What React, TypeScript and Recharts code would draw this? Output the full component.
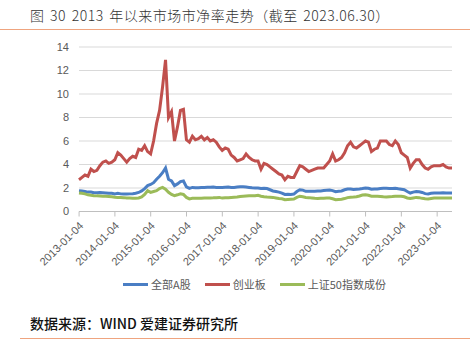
import React from 'react';
import { LineChart, Line, XAxis, YAxis, CartesianGrid } from 'recharts';

// monthly points, 2013-01 .. 2023-06
const months: string[] = [];
for (let y = 2013; y <= 2023; y++) {
  for (let m = 1; m <= 12; m++) {
    if (y === 2023 && m > 6) break;
    months.push(`${y}-${String(m).padStart(2, '0')}`);
  }
}

const allA = [
  1.77, 1.75, 1.7, 1.65, 1.65, 1.6, 1.6, 1.62, 1.6, 1.58, 1.55, 1.55,
  1.5, 1.55, 1.5, 1.48, 1.48, 1.5, 1.52, 1.55, 1.62, 1.75, 1.95, 2.2,
  2.3, 2.45, 2.75, 3.0, 3.3, 3.7, 2.75, 2.6, 2.2, 2.35, 2.55, 2.6,
  2.1, 1.97, 2.05, 2.02, 2.03, 2.05, 2.05, 2.07, 2.06, 2.08, 2.05, 2.05,
  2.05, 2.07, 2.08, 2.05, 2.05, 2.08, 2.1, 2.1, 2.08, 2.05, 2.02, 2.0,
  2.0, 1.95, 1.97, 1.95, 1.85, 1.75, 1.7, 1.65, 1.57, 1.45, 1.47, 1.45,
  1.48, 1.7, 1.85, 1.82, 1.72, 1.72, 1.73, 1.72, 1.75, 1.75, 1.78, 1.8,
  1.82, 1.78, 1.68, 1.72, 1.75, 1.85, 1.92, 1.92, 1.88, 1.9, 1.92, 1.95,
  2.0, 1.98, 1.9, 1.92, 1.92, 1.95, 1.97, 1.97, 1.95, 1.95, 1.97, 1.93,
  1.9, 1.85, 1.7, 1.57, 1.65, 1.7, 1.68, 1.62, 1.52, 1.5, 1.55, 1.57,
  1.58, 1.58, 1.6, 1.58, 1.57, 1.57,
];

const chinext = [
  2.7, 2.9, 3.1, 3.0, 3.6, 3.4, 3.5, 3.9, 4.2, 4.3, 4.1, 4.2,
  4.4, 5.0, 4.8, 4.5, 4.2, 4.5, 4.7, 4.6, 5.3, 5.2, 5.6, 5.1,
  4.9, 6.0, 7.5, 8.6, 10.6, 12.9, 8.0, 8.5, 6.0, 7.2, 8.6, 8.7,
  6.1, 5.9, 6.4, 6.1, 6.2, 6.4, 6.1, 6.3, 6.0, 6.1, 5.9, 5.5,
  5.2, 5.4, 5.3, 4.8, 4.6, 4.3, 4.4, 4.5, 4.9, 4.6, 4.4, 4.3,
  4.3, 3.6, 4.1, 4.0, 3.8, 3.6, 3.4, 3.2, 3.1, 2.7, 3.0, 2.9,
  2.9, 3.4, 3.9, 3.8, 3.6, 3.4, 3.5, 3.6, 3.7, 3.7, 3.7, 4.0,
  4.3, 4.9, 4.3, 4.4, 4.6, 5.0, 5.6, 5.9, 5.5, 5.4, 5.6, 5.8,
  6.0, 5.9, 5.1, 5.3, 5.4, 6.0, 6.0, 6.0, 5.7, 5.6, 6.0, 5.7,
  5.0, 4.8, 4.6, 3.7, 4.1, 4.4, 4.4, 4.0, 3.7, 3.6, 3.8, 3.9,
  3.9, 3.9, 4.0, 3.8, 3.7, 3.7,
];

const sz50 = [
  1.58, 1.55, 1.5, 1.42, 1.38, 1.35, 1.33, 1.32, 1.3, 1.3, 1.28, 1.25,
  1.22, 1.2, 1.2, 1.18, 1.15, 1.14, 1.13, 1.13, 1.15, 1.25, 1.45, 1.77,
  1.63, 1.7, 1.77, 1.95, 2.05, 1.9, 1.63, 1.45, 1.35, 1.42, 1.5, 1.45,
  1.2, 1.07, 1.12, 1.12, 1.12, 1.13, 1.14, 1.15, 1.15, 1.16, 1.18, 1.2,
  1.14, 1.16, 1.18, 1.2, 1.22, 1.23, 1.28, 1.3, 1.32, 1.34, 1.35, 1.34,
  1.38, 1.3, 1.25, 1.23, 1.22, 1.2, 1.15, 1.1, 1.08, 1.0, 1.02, 1.04,
  1.06, 1.2, 1.3, 1.25, 1.2, 1.18, 1.15, 1.12, 1.1, 1.12, 1.13, 1.14,
  1.14, 1.08, 1.0, 1.03, 1.05, 1.1, 1.18, 1.22, 1.23, 1.25, 1.32, 1.4,
  1.43, 1.38, 1.3, 1.3, 1.3, 1.28, 1.25, 1.23, 1.25, 1.27, 1.3, 1.3,
  1.3, 1.25, 1.15, 1.1, 1.15, 1.2, 1.18, 1.12, 1.08, 1.06, 1.1, 1.14,
  1.14, 1.15, 1.15, 1.14, 1.14, 1.14,
];

const yearTicks = [
  '2013-01-04', '2014-01-04', '2015-01-04', '2016-01-04', '2017-01-04', '2018-01-04',
  '2019-01-04', '2020-01-04', '2021-01-04', '2022-01-04', '2023-01-04',
];
const yTicks = [0, 2, 4, 6, 8, 10, 12, 14];

const series = [
  { key: 'allA', name: '全部A股', color: '#4A7EC4' },
  { key: 'chinext', name: '创业板', color: '#C0504D' },
  { key: 'sz50', name: '上证50指数成份', color: '#9BBB59' },
];

// date string -> fractional year
const toT = (s: string) => {
  const [y, m, d] = s.split('-').map(Number);
  return y + (m - 1 + (d ? d / 31 : 0.1)) / 12;
};

const data = months.map((m, i) => ({
  t: toT(m),
  allA: allA[i],
  chinext: chinext[i],
  sz50: sz50[i],
}));

const tickPos = yearTicks.map(toT);
const labelFor = (v: number) => yearTicks[tickPos.findIndex(p => Math.abs(p - v) < 1e-6)] ?? '';

const XTick = ({ x, y, payload }: any) => {
  const ax = x + 5;
  const ay = y + 8;
  return (
    <text
      x={ax}
      y={ay}
      transform={`rotate(-45 ${ax} ${ay})`}
      textAnchor="end"
      fontSize={11}
      fontFamily="Liberation Sans, Arial, sans-serif"
      fill="#595959"
    >
      {labelFor(payload.value)}
    </text>
  );
};

const cjk = '"Noto Sans CJK SC", sans-serif';

export default function App() {
  return (
    <div style={{ position: 'absolute', left: 0, top: 0, width: 470, height: 356, background: '#fff' }}>
      <div
        style={{
          position: 'absolute',
          left: 30,
          top: 5,
          fontFamily: cjk,
          fontSize: 14,
          fontWeight: 300,
          letterSpacing: 0.5,
          wordSpacing: 2,
          color: '#333',
          whiteSpace: 'nowrap',
        }}
      >
        图 30 2013 年以来市场市净率走势（截至 2023.06.30）
      </div>
      <div style={{ position: 'absolute', left: 0, top: 29, width: 470, height: 1, background: '#EFA47F' }} />

      <div style={{ position: 'absolute', left: 0, top: 0 }}>
        <LineChart width={470} height={300} data={data} margin={{ top: 47, right: 18, bottom: 28.5, left: 49 }}>
          <CartesianGrid vertical={false} stroke="#D9D9D9" />
          <XAxis
            dataKey="t"
            type="number"
            domain={[data[0].t, data[data.length - 1].t]}
            ticks={tickPos}
            interval={0}
            height={60}
            tickSize={5}
            tickLine={{ stroke: '#BFBFBF' }}
            axisLine={{ stroke: '#BFBFBF' }}
            tick={<XTick />}
          />
          <YAxis
            domain={[0, 14]}
            ticks={yTicks}
            width={30}
            axisLine={false}
            tickLine={false}
            tickMargin={4}
            tick={{ fontSize: 11, fill: '#595959', fontFamily: 'Liberation Sans, Arial, sans-serif' }}
          />
          {series.map(s => (
            <Line
              key={s.key}
              dataKey={s.key}
              name={s.name}
              type="linear"
              stroke={s.color}
              strokeWidth={3}
              dot={false}
              isAnimationActive={false}
            />
          ))}
        </LineChart>
      </div>

      <div
        style={{
          position: 'absolute',
          left: 123,
          top: 276,
          display: 'flex',
          alignItems: 'center',
          fontFamily: cjk,
          fontSize: 11,
          color: '#595959',
          whiteSpace: 'nowrap',
        }}
      >
        {series.map(s => (
          <div key={s.key} style={{ display: 'flex', alignItems: 'center', marginRight: 14 }}>
            <div style={{ width: 25, height: 3, background: s.color, marginRight: 3 }} />
            <span>{s.name}</span>
          </div>
        ))}
      </div>

      <div
        style={{
          position: 'absolute',
          left: 30,
          top: 313,
          fontFamily: cjk,
          fontSize: 14,
          fontWeight: 500,
          color: '#111',
          whiteSpace: 'nowrap',
        }}
      >
        数据来源：WIND 爱建证券研究所
      </div>
      <div style={{ position: 'absolute', left: 20, top: 338, width: 450, height: 1, background: '#EFA47F' }} />
    </div>
  );
}
